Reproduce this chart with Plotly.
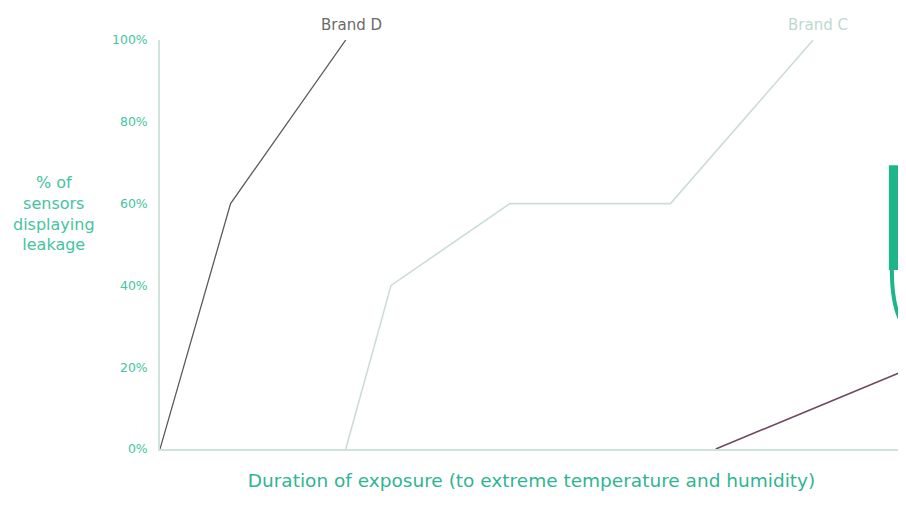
import plotly.graph_objects as go

# Data (x: relative duration units 0-100, y: % of sensors displaying leakage)
brand_d_x = [0, 9.5, 25]
brand_d_y = [0, 60, 100]
brand_c_x = [25, 31.1, 47.1, 68.7, 87.9]
brand_c_y = [0, 40, 60, 60, 100]
brand_x_x = [74.8, 100]
brand_x_y = [0, 19]
y_ticks = [0, 20, 40, 60, 80, 100]
y_tick_labels = ["0%", "20%", "40%", "60%", "80%", "100%"]

teal = "#45c4a0"
font_family = "DejaVu Sans"
fig = go.Figure()
fig.add_trace(go.Scatter(x=brand_d_x, y=brand_d_y, mode="lines",
                         line=dict(color="#5a5a5a", width=1.3), name="Brand D"))
fig.add_trace(go.Scatter(x=brand_c_x, y=brand_c_y, mode="lines",
                         line=dict(color="#cddcd8", width=1.6), name="Brand C"))
fig.add_trace(go.Scatter(x=brand_x_x, y=brand_x_y, mode="lines",
                         line=dict(color="#6e4a60", width=1.6), name="Brand"))

fig.add_annotation(x=brand_d_x[-1], y=100, text="Brand D", showarrow=False,
                   xshift=6, yshift=15, font=dict(color="#6a6a6a", size=15, family=font_family))
fig.add_annotation(x=brand_c_x[-1], y=100, text="Brand C", showarrow=False,
                   xshift=5, yshift=15, font=dict(color="#bcd9d2", size=15, family=font_family))
fig.add_annotation(xref="paper", yref="paper", x=-0.1427, y=0.5746, xanchor="center",
                   yanchor="middle", text="% of<br>sensors<br>displaying<br>leakage",
                   showarrow=False, align="center",
                   font=dict(color=teal, size=16, family=font_family))

# partially visible logo at the right edge
fig.add_shape(type="rect", xref="paper", yref="paper", x0=0.981, x1=1.01, y0=0.4377, y1=0.694,
              fillcolor="#1fb58a", line=dict(width=0))
fig.add_shape(type="path", xref="paper", yref="paper",
              path="M 0.985,0.4377 Q 0.985,0.33 1.006,0.29",
              line=dict(color="#1fb58a", width=4))

fig.update_layout(
    width=898, height=498,
    margin=dict(l=152, r=3, t=32, b=57),
    paper_bgcolor="white", plot_bgcolor="white",
    showlegend=False,
    font=dict(family=font_family, color=teal),
    xaxis=dict(range=[0, 100], showgrid=False, zeroline=False, showticklabels=False,
               ticks="", showline=True, linecolor="#cfe2dc", linewidth=1.5,
               title=dict(text="Duration of exposure (to extreme temperature and humidity)",
                          font=dict(size=18.5, color="#2fb592", family=font_family), standoff=24)),
    yaxis=dict(range=[0, 100], showgrid=False, zeroline=False, tickvals=y_ticks,
               ticktext=y_tick_labels, ticks="", showline=True, linecolor="#cfe2dc",
               linewidth=1.5, ticklabelstandoff=8,
               tickfont=dict(size=12.5, color=teal, family=font_family)),
)
fig.write_html("out.html")
